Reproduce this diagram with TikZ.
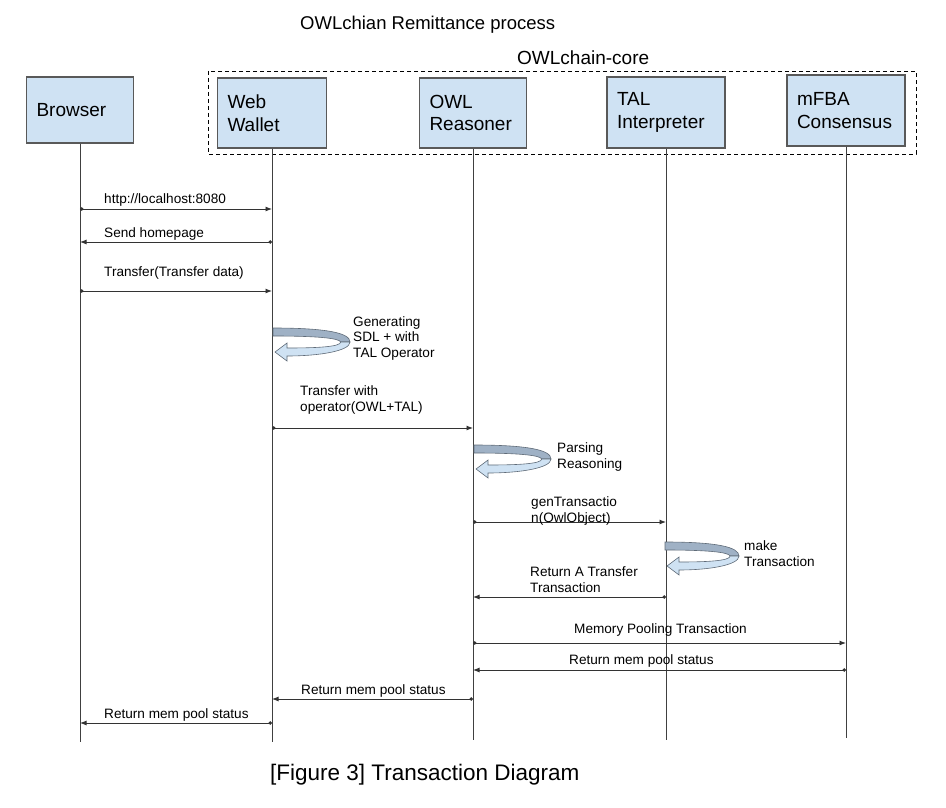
\documentclass[tikz,border=0pt]{standalone}
\usepackage{fontspec}
\setmainfont{Liberation Sans}
\usetikzlibrary{arrows.meta}
\definecolor{boxblue}{HTML}{CFE2F3}
\definecolor{loopdark}{HTML}{9FB1C5}
\definecolor{loopedge}{HTML}{5F6B78}
\definecolor{edgegrey}{HTML}{595959}
\tikzset{
  actor/.style={draw=edgegrey, line width=1.1pt, fill=boxblue, minimum height=70pt,
    text width=#1, align=left, inner xsep=10pt, font=\fontsize{19}{22.5}\selectfont},
  life/.style={line width=0.9pt, draw=black!75},
  msg/.style={line width=0.9pt, draw=black!80, {Circle[length=3.5pt]}-{Latex[length=6.5pt,width=5pt]}},
  lbl/.style={anchor=base west, inner sep=0pt, align=left, font=\fontsize{13.6}{15.5}\selectfont}
}
\newcommand{\selfloop}[3]{%
  \begin{scope}[shift={(#1,#2)}, draw=loopedge, line width=0.6pt]
    \filldraw[fill=loopdark] (0,0) .. controls (0.7*#3,0) and (#3,5) .. (#3,14)
      -- (0.88*#3,14) .. controls (0.86*#3,10) and (0.55*#3,8) .. (0,8) -- cycle;
    \filldraw[fill=boxblue] (#3,14) .. controls (#3,23) and (0.6*#3,28) .. (14,28)
      -- (14,33) -- (2,24) -- (14,15) -- (14,20)
      .. controls (0.55*#3,20) and (0.88*#3,19) .. (0.88*#3,14) -- cycle;
  \end{scope}}
\begin{document}
\begin{tikzpicture}[x=1pt, y=-1pt]
            \useasboundingbox (0,0) rectangle (946,808);
            \node[anchor=base west, inner sep=0pt, font=\fontsize{18.5}{22}\selectfont] (title) at (300,30) {OWLchian Remittance process};
            \draw[line width=0.8pt, dash pattern=on 4pt off 3pt] (208,71) rectangle (916,154);
            \node[anchor=base west, inner sep=0pt, font=\fontsize{19}{22}\selectfont] (core) at (517,65) {OWLchain-core};

            \node[actor=87pt, minimum height=66pt] (browser) at (80,110) {Browser};
            \node[actor=89pt] (wallet) at (272,113) {Web\\Wallet};
            \node[actor=87pt] (owl) at (473,113) {OWL\\Reasoner};
            \node[actor=98pt, minimum height=71pt] (tal) at (666,112.5) {TAL\\Interpreter};
            \node[actor=98pt, minimum height=71pt] (mfba) at (846,110.5) {mFBA\\Consensus};

            \draw[life] (browser) -- (browser |- 0,742);
            \draw[life] (wallet) -- (wallet |- 0,742);
            \draw[life] (owl) -- (owl |- 0,740);
            \draw[life] (tal) -- (tal |- 0,740);
            \draw[life] (mfba) -- (mfba |- 0,738);

            \draw[msg] (browser |- 0,209) -- (wallet |- 0,209);
            \node[lbl] (m1) at (104,203) {http://localhost:8080};
            \draw[msg] (wallet |- 0,242) -- (browser |- 0,242);
            \node[lbl] (m2) at (104,237) {Send homepage};
            \draw[msg] (browser |- 0,291) -- (wallet |- 0,291);
            \node[lbl] (m3) at (104,276) {Transfer(Transfer data)};

            \selfloop{273}{328}{77}
            \node[lbl] (s1) at (353,357) {Generating\\SDL + with\\TAL Operator};

            \draw[msg] (wallet |- 0,428) -- (owl |- 0,428);
            \node[lbl] (m4) at (300,411) {Transfer with\\operator(OWL+TAL)};

            \selfloop{474}{445}{77}
            \node[lbl] (s2) at (557,468) {Parsing\\Reasoning};

            \draw[msg] (owl |- 0,522) -- (tal |- 0,522);
            \node[lbl] (m5) at (531,522) {genTransactio\\n(OwlObject)};

            \selfloop{665}{542}{74}
            \node[lbl] (s3) at (744,566) {make\\Transaction};

            \draw[msg] (tal |- 0,597) -- (owl |- 0,597);
            \node[lbl] (m6) at (530,592) {Return A Transfer\\Transaction};

            \draw[msg] (owl |- 0,643) -- (mfba |- 0,643);
            \node[lbl] (m7) at (574,633) {Memory Pooling Transaction};
            \draw[msg] (mfba |- 0,670) -- (owl |- 0,670);
            \node[lbl] (m8) at (569,664) {Return mem pool status};
            \draw[msg] (owl |- 0,699) -- (wallet |- 0,699);
            \node[lbl] (m9) at (301,694) {Return mem pool status};
            \draw[msg] (wallet |- 0,723) -- (browser |- 0,723);
            \node[lbl] (m10) at (104,718) {Return mem pool status};

            \node[anchor=base west, inner sep=0pt, font=\fontsize{22.5}{26}\selectfont] (caption) at (270,780) {[Figure 3] Transaction Diagram};
          \end{tikzpicture}
\end{document}
